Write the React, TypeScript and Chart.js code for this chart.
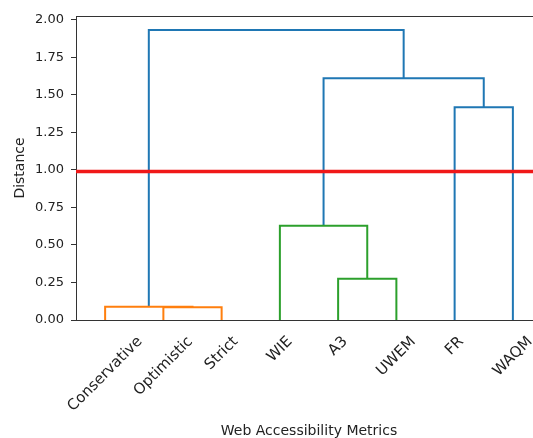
import React, { useEffect, useRef } from "react";
import { Chart, registerables } from "chart.js";

Chart.register(...registerables);

// ---- Data (scipy-style dendrogram coordinates) ----
const leafLabels = ["Conservative", "Optimistic", "Strict", "WIE", "A3", "UWEM", "FR", "WAQM"];
const leafPositions = [5, 15, 25, 35, 45, 55, 65, 75];

const linkX = [
  [15, 15, 25, 25],
  [5, 5, 20, 20],
  [45, 45, 55, 55],
  [35, 35, 50, 50],
  [65, 65, 75, 75],
  [42.5, 42.5, 70, 70],
  [12.5, 12.5, 56.25, 56.25],
];
const linkY = [
  [0, 0.085, 0.085, 0],
  [0, 0.089, 0.089, 0.085],
  [0, 0.275, 0.275, 0],
  [0, 0.629, 0.629, 0.275],
  [0, 1.418, 1.418, 0],
  [0.629, 1.611, 1.611, 1.418],
  [0.089, 1.933, 1.933, 1.611],
];
const linkColors = ["#ff7f0e", "#ff7f0e", "#2ca02c", "#2ca02c", "#1f77b4", "#1f77b4", "#1f77b4"];

const thresholdDistance = 0.99;
const yTickValues = [0, 0.25, 0.5, 0.75, 1.0, 1.25, 1.5, 1.75, 2.0];
const xRange = [0, 80];
const yRange = [0, 2.0265];

const FONT = '"DejaVu Sans", sans-serif';
const TEXT_COLOR = "#222";
const SPINE_COLOR = "#333";
const X_TICK_SIZE = 15;

const dendroPlugin = {
  id: "dendroExtras",
  afterDraw(chart: any) {
    const { ctx, chartArea, scales } = chart;
    const xs = scales.x;
    ctx.save();
    // top and right spines
    ctx.strokeStyle = SPINE_COLOR;
    ctx.lineWidth = 1;
    ctx.beginPath();
    ctx.moveTo(chartArea.left, chartArea.top + 0.5);
    ctx.lineTo(chartArea.right, chartArea.top + 0.5);
    ctx.moveTo(chartArea.right - 0.5, chartArea.top);
    ctx.lineTo(chartArea.right - 0.5, chartArea.bottom);
    ctx.stroke();
    // rotated x tick labels, centred on each leaf like matplotlib
    ctx.font = `${X_TICK_SIZE}px ${FONT}`;
    ctx.fillStyle = TEXT_COLOR;
    ctx.textAlign = "center";
    ctx.textBaseline = "middle";
    leafLabels.forEach((lab, i) => {
      const px = xs.getPixelForValue(leafPositions[i]);
      const w = ctx.measureText(lab).width;
      const h = X_TICK_SIZE;
      const side = (w + h) / Math.SQRT2;
      const cy = chartArea.bottom + 14 + side / 2;
      ctx.save();
      ctx.translate(px, cy);
      ctx.rotate(-Math.PI / 4);
      ctx.fillText(lab, 0, 0);
      ctx.restore();
    });
    ctx.restore();
  },
};

export default function App() {
  const canvasRef = useRef<HTMLCanvasElement | null>(null);

  useEffect(() => {
    const canvas = canvasRef.current;
    if (!canvas) return;

    const datasets: any[] = [
      {
        data: [
          { x: xRange[0], y: thresholdDistance },
          { x: xRange[1], y: thresholdDistance },
        ],
        borderColor: "#f01818",
        borderWidth: 3.5,
        showLine: true,
        pointRadius: 0,
      },
      ...linkX.map((xsArr, i) => ({
        data: xsArr.map((x, j) => ({ x, y: linkY[i][j] })),
        borderColor: linkColors[i],
        borderWidth: 2,
        showLine: true,
        pointRadius: 0,
        borderJoinStyle: "miter",
      })),
    ];

    const chart = new Chart(canvas, {
      type: "scatter",
      data: { datasets },
      options: {
        animation: false,
        responsive: false,
        layout: { padding: { top: 16, left: 0, right: 0, bottom: 0 } },
        plugins: { legend: { display: false }, tooltip: { enabled: false } },
        scales: {
          x: {
            type: "linear",
            min: xRange[0],
            max: xRange[1],
            afterBuildTicks: (s: any) => {
              s.ticks = leafPositions.map((v) => ({ value: v }));
            },
            afterFit: (s: any) => {
              s.height = 118;
            },
            ticks: { display: false, autoSkip: false },
            grid: { display: false },
            border: { display: true, color: SPINE_COLOR, width: 1 },
            title: {
              display: true,
              text: "Web Accessibility Metrics",
              color: TEXT_COLOR,
              font: { family: FONT, size: 14, lineHeight: 1 },
              padding: { top: 0, bottom: 0 },
            },
          },
          y: {
            type: "linear",
            min: yRange[0],
            max: yRange[1],
            afterBuildTicks: (s: any) => {
              s.ticks = yTickValues.map((v) => ({ value: v }));
            },
            afterFit: (s: any) => {
              s.width = 76;
            },
            ticks: {
              autoSkip: false,
              padding: 7,
              color: TEXT_COLOR,
              font: { family: FONT, size: 13 },
              callback: (v: any) => Number(v).toFixed(2),
            },
            grid: { display: true, drawOnChartArea: false, drawTicks: true, tickLength: 5, color: SPINE_COLOR, lineWidth: 1 },
            border: { display: true, color: SPINE_COLOR, width: 1 },
            title: {
              display: true,
              text: "Distance",
              color: TEXT_COLOR,
              font: { family: FONT, size: 14, lineHeight: 1 },
              padding: { top: 13, bottom: 0 },
            },
          },
        },
      } as any,
      plugins: [dendroPlugin],
    });

    return () => chart.destroy();
  }, []);

  return (
    <div style={{ position: "absolute", left: 0, top: 0, width: 533, height: 438, overflow: "hidden", background: "#fff" }}>
      <canvas ref={canvasRef} width={542} height={438} style={{ display: "block" }} />
    </div>
  );
}
